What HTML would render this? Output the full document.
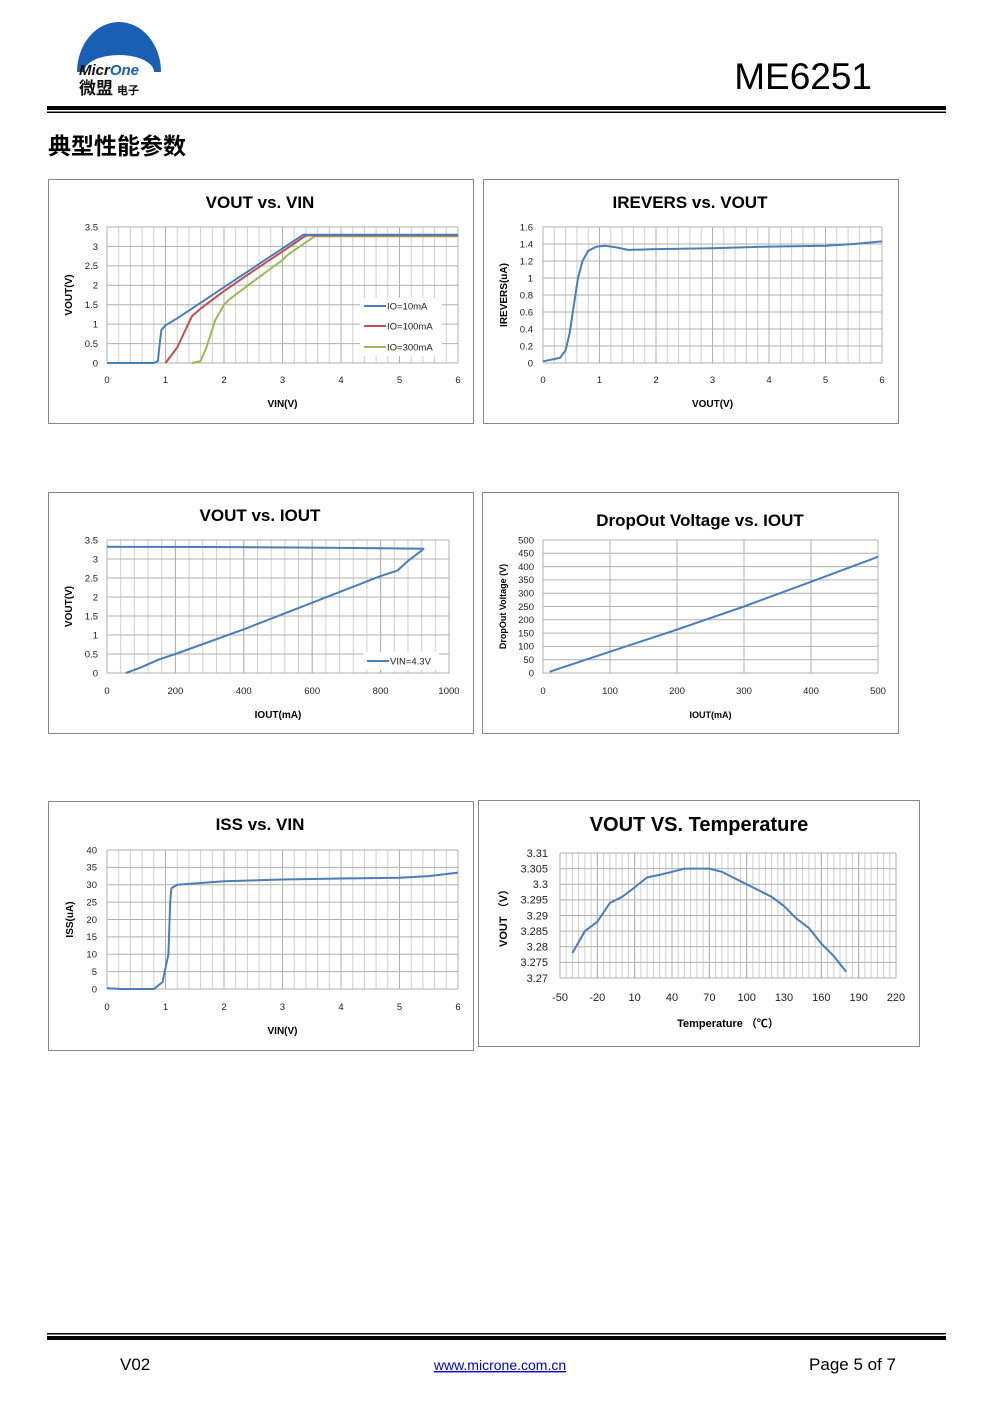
<!DOCTYPE html>
<html><head><meta charset="utf-8"><style>
body{margin:0;background:#fff;font-family:"Liberation Sans","Noto Sans CJK SC",sans-serif;}
#page{position:relative;width:991px;height:1403px;overflow:hidden;}
.abs{position:absolute;}
</style></head><body>
<div id="page">
<svg class="abs" style="left:0;top:0" width="991" height="1403" id="svg">
  <g>
    <path d="M77,72 A42,50 0 0 1 161,72 Z" fill="#1a5fb4"/>
    <path d="M84,72 A35,17 0 0 1 154,72 Z" fill="#fff"/>
    <text x="79" y="75" font-size="15" font-weight="bold" font-style="italic" fill="#111" font-family="Liberation Sans,sans-serif">Micr<tspan fill="#1a5fb4">One</tspan></text>
    <text x="79" y="94" font-size="17" font-weight="bold" fill="#111" font-family="Noto Sans CJK SC,sans-serif">微盟<tspan font-size="11" dx="4">电子</tspan></text>
  </g>
  <text x="872" y="89" font-size="37" text-anchor="end" fill="#000">ME6251</text>
  <rect x="47" y="106" width="899" height="4" fill="#000"/>
  <rect x="47" y="111.5" width="899" height="1.5" fill="#000"/>
  <text x="48" y="154" font-size="23" font-weight="bold" fill="#000" font-family="Noto Sans CJK SC,sans-serif">典型性能参数</text>
  <rect x="47" y="1333" width="899" height="1.5" fill="#000"/>
  <rect x="47" y="1336" width="899" height="4" fill="#000"/>
  <text x="120" y="1370" font-size="17" fill="#000">V02</text>
  <text x="500" y="1370" font-size="14" fill="#00c" text-anchor="middle" text-decoration="underline">www.microne.com.cn</text>
  <text x="896" y="1370" font-size="17" fill="#000" text-anchor="end">Page 5 of 7</text>
</svg>
</div>
<script>
// Chart 1: VOUT vs VIN
const c1BlueX=[0,0.8,0.87,0.9,0.93,1,1.2,1.5,2,2.5,3,3.35,6];
const c1BlueY=[0,0,0.05,0.5,0.85,0.97,1.15,1.45,1.95,2.45,2.95,3.3,3.3];
const c1RedX=[1,1.2,1.45,1.6,2,2.5,3,3.4,6];
const c1RedY=[0,0.4,1.2,1.4,1.85,2.37,2.87,3.28,3.28];
const c1GreenX=[1.45,1.6,1.7,1.85,2,2.1,2.5,3,3.1,3.55,6];
const c1GreenY=[0,0.05,0.4,1.1,1.5,1.65,2.1,2.65,2.8,3.26,3.26];
const c1XTicks=[0,1,2,3,4,5,6];
const c1YTicks=[0,0.5,1,1.5,2,2.5,3,3.5];
// Chart 2: IREVERS vs VOUT
const c2X=[0,0.3,0.4,0.47,0.55,0.62,0.7,0.8,0.95,1.1,1.3,1.5,2,3,4,5,5.5,6];
const c2Y=[0.02,0.06,0.15,0.35,0.7,1.0,1.2,1.32,1.37,1.38,1.36,1.33,1.34,1.35,1.37,1.38,1.4,1.43];
const c2XTicks=[0,1,2,3,4,5,6];
const c2YTicks=[0,0.2,0.4,0.6,0.8,1,1.2,1.4,1.6];
// Chart 3: VOUT vs IOUT
const c3X=[0,300,600,925,920,880,850,800,600,400,200,150,100,55];
const c3Y=[3.32,3.315,3.3,3.27,3.22,2.95,2.7,2.55,1.85,1.15,0.5,0.35,0.15,0];
const c3XTicks=[0,200,400,600,800,1000];
const c3YTicks=[0,0.5,1,1.5,2,2.5,3,3.5];
// Chart 4: Dropout
const c4X=[10,100,200,300,400,500];
const c4Y=[5,80,163,250,343,437];
const c4XTicks=[0,100,200,300,400,500];
const c4YTicks=[0,50,100,150,200,250,300,350,400,450,500];
// Chart 5: ISS vs VIN
const c5X=[0,0.25,0.8,0.95,1.05,1.08,1.1,1.2,2,3,4,5,5.5,6];
const c5Y=[0.2,0,0,2,10,25,29,30,31,31.5,31.8,32,32.5,33.5];
const c5XTicks=[0,1,2,3,4,5,6];
const c5YTicks=[0,5,10,15,20,25,30,35,40];
// Chart 6: VOUT vs Temperature
const c6X=[-40,-30,-20,-10,0,10,20,30,40,50,60,70,80,90,100,110,120,130,140,150,160,170,180];
const c6Y=[3.278,3.285,3.288,3.294,3.296,3.299,3.3022,3.303,3.304,3.305,3.305,3.305,3.304,3.302,3.3,3.298,3.296,3.293,3.289,3.286,3.281,3.277,3.272];
const c6XTicks=[-50,-20,10,40,70,100,130,160,190,220];
const c6YTicks=[3.27,3.275,3.28,3.285,3.29,3.295,3.3,3.305,3.31];
const c6YLabels=["3.27","3.275","3.28","3.285","3.29","3.295","3.3","3.305","3.31"];

const NS="http://www.w3.org/2000/svg";
const svg=document.getElementById('svg');
function mk(tag,attrs,parent,text){const e=document.createElementNS(NS,tag);for(const k in attrs)e.setAttribute(k,attrs[k]);if(text!==undefined)e.textContent=text;parent.appendChild(e);return e;}

function chart(o){
  const g=mk('g',{},svg);
  
  
  const fr=mk('rect',{x:o.fx+0.5,y:o.fy+0.5,width:o.fw,height:o.fh,fill:'#fff',stroke:'#888','stroke-width':1},g);
  
  
  const sx=v=>o.px+(v-o.xmin)/(o.xmax-o.xmin)*o.pw;
  const sy=v=>o.py+o.ph-(v-o.ymin)/(o.ymax-o.ymin)*o.ph;
  if(o.xminor){for(let v=o.xmin;v<=o.xmax+1e-9;v+=o.xminor){mk('line',{x1:sx(v),x2:sx(v),y1:o.py,y2:o.py+o.ph,stroke:'#d0d0d0','stroke-width':1},g);}}
  if(o.yminor){for(let v=o.ymin;v<=o.ymax+1e-9;v+=o.yminor){mk('line',{x1:o.px,x2:o.px+o.pw,y1:sy(v),y2:sy(v),stroke:'#d0d0d0','stroke-width':1},g);}}
  o.xt.forEach(v=>{mk('line',{x1:sx(v),x2:sx(v),y1:o.py,y2:o.py+o.ph,stroke:'#b0b0b0','stroke-width':1},g);
    const t=mk('text',{x:sx(v),y:o.py+o.ph+o.xtOff,'font-size':o.tfs,'text-anchor':'middle',fill:'#222'},g,String(v));
    
    });
  o.yt.forEach((v,i)=>{mk('line',{x1:o.px,x2:o.px+o.pw,y1:sy(v),y2:sy(v),stroke:'#b0b0b0','stroke-width':1},g);
    const t=mk('text',{x:o.px-o.ytOff,y:sy(v)+o.tfs*0.35,'font-size':o.tfs,'text-anchor':'end',fill:'#222'},g,o.yl?o.yl[i]:String(v));
    
    });
  const ti=mk('text',{x:o.tx,y:o.ty,'font-size':o.tsz||17,'font-weight':'bold','text-anchor':'middle',fill:'#000'},g,o.title);
  
  
  const xl=mk('text',{x:o.px+o.pw/2,y:o.xly,'font-size':o.lfs||10,'font-weight':'bold','text-anchor':'middle',fill:'#000'},g,o.xlabel);
  
  
  const yl=mk('text',{x:o.ylx,y:o.py+o.ph/2,'font-size':o.lfs||10,'font-weight':'bold','text-anchor':'middle',fill:'#000',transform:`rotate(-90 ${o.ylx} ${o.py+o.ph/2})`},g,o.ylabel);
  
  
  if(o.legendBox){const b=o.legendBox;mk('rect',{x:b[0],y:b[1],width:b[2],height:b[3],fill:'#fff'},g);}
  o.series.forEach(s=>{
    const d=s.x.map((v,i)=>(i?'L':'M')+sx(v).toFixed(1)+','+sy(s.y[i]).toFixed(1)).join(' ');
    const p=mk('path',{d:d,fill:'none',stroke:s.c,'stroke-width':2,'stroke-linejoin':'round'},g);
    
    
  });
  (o.legend||[]).forEach(L=>{
    const lg=mk('g',{},g);
    
    
    mk('line',{x1:L.x,x2:L.x+22,y1:L.y,y2:L.y,stroke:L.c,'stroke-width':2},lg);
    mk('text',{x:L.x+23,y:L.y+3.5,'font-size':9.5,fill:'#222'},lg,L.t);
  });
}
chart({name:'chart-vout-vs-vin',fx:48,fy:179,fw:425,fh:244,px:107,py:227,pw:351,ph:136,xmin:0,xmax:6,ymin:0,ymax:3.5,xminor:0.2,xt:c1XTicks,yt:c1YTicks,xtOff:20,ytOff:9,tfs:9.5,title:'VOUT vs. VIN',tx:260,ty:208,xlabel:'VIN(V)',xly:407,ylabel:'VOUT(V)',ylx:72,
 series:[{x:c1GreenX,y:c1GreenY,c:'#9bbb59'},{x:c1RedX,y:c1RedY,c:'#c0504d'},{x:c1BlueX,y:c1BlueY,c:'#4a7ebb'}],
 legendBox:[360,298,82,58],
 legend:[{x:364,y:306,c:'#4a7ebb',t:'IO=10mA'},{x:364,y:326,c:'#c0504d',t:'IO=100mA'},{x:364,y:347,c:'#9bbb59',t:'IO=300mA'}]});
chart({name:'chart-irevers-vs-vout',fx:483,fy:179,fw:415,fh:244,px:543,py:227,pw:339,ph:136,xmin:0,xmax:6,ymin:0,ymax:1.6,xminor:0.2,xt:c2XTicks,yt:c2YTicks,xtOff:20,ytOff:10,tfs:9.5,title:'IREVERS vs. VOUT',tx:690,ty:208,xlabel:'VOUT(V)',xly:407,ylabel:'IREVERS(uA)',ylx:507,
 series:[{x:c2X,y:c2Y,c:'#4a7ebb'}]});
chart({name:'chart-vout-vs-iout',fx:48,fy:492,fw:425,fh:241,px:107,py:540,pw:342,ph:133,xmin:0,xmax:1000,ymin:0,ymax:3.5,xminor:40,xt:c3XTicks,yt:c3YTicks,xtOff:21,ytOff:9,tfs:9.5,title:'VOUT vs. IOUT',tx:260,ty:521,xlabel:'IOUT(mA)',xly:718,ylabel:'VOUT(V)',ylx:72,
 series:[{x:c3X,y:c3Y,c:'#4a7ebb'}],legendBox:[363,652,76,18],legend:[{x:367,y:661,c:'#4a7ebb',t:'VIN=4.3V'}]});
chart({name:'chart-dropout-vs-iout',fx:482,fy:492,fw:416,fh:241,px:543,py:540,pw:335,ph:133,xmin:0,xmax:500,ymin:0,ymax:500,xt:c4XTicks,yt:c4YTicks,xtOff:21,ytOff:9,tfs:9.5,title:'DropOut Voltage vs. IOUT',tx:700,ty:526,xlabel:'IOUT(mA)',xly:718,ylabel:'DropOut Voltage (V)',ylx:506,lfs:9,
 series:[{x:c4X,y:c4Y,c:'#4a7ebb'}]});
chart({name:'chart-iss-vs-vin',fx:48,fy:801,fw:425,fh:249,px:107,py:850,pw:351,ph:139,xmin:0,xmax:6,ymin:0,ymax:40,xminor:0.2,xt:c5XTicks,yt:c5YTicks,xtOff:21,ytOff:10,tfs:9.5,title:'ISS vs. VIN',tx:260,ty:830,xlabel:'VIN(V)',xly:1034,ylabel:'ISS(uA)',ylx:73,
 series:[{x:c5X,y:c5Y,c:'#4a7ebb'}]});
chart({name:'chart-vout-vs-temperature',fx:478,fy:800,fw:441,fh:246,px:560,py:853,pw:336,ph:125,xmin:-50,xmax:220,ymin:3.27,ymax:3.31,xminor:5,xt:c6XTicks,yt:c6YTicks,yl:c6YLabels,xtOff:23,ytOff:12,tfs:11,title:'VOUT  VS. Temperature',tx:699,ty:831,tsz:20,xlabel:'Temperature （℃）',xly:1027,ylabel:'VOUT （V）',ylx:507,lfs:11,
 series:[{x:c6X,y:c6Y,c:'#4a7ebb'}]});
</script>
</body></html>
